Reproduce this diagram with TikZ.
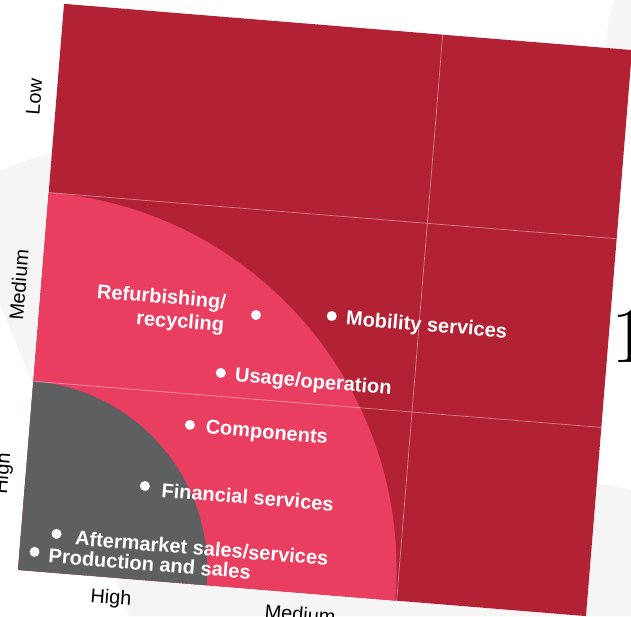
\documentclass[tikz,border=0pt]{standalone}
\usepackage{fontspec}
\newfontfamily\chartfont{Liberation Sans}
\usetikzlibrary{positioning}

\definecolor{cellred}{RGB}{179,33,52}
\definecolor{zonepink}{RGB}{234,62,97}
\definecolor{coregray}{RGB}{94,95,97}
\definecolor{backgray}{RGB}{245,245,245}

\tikzset{
  dot/.style={circle, fill=white, inner sep=0pt, minimum size=0.2cm},
  lbl/.style={text=white, yshift=-0.05cm, font=\chartfont\bfseries\fontsize{11.4}{13.2}\selectfont},
  axislbl/.style={text=black, font=\chartfont\fontsize{11.3}{13.2}\selectfont},
  gridline/.style={white, opacity=0.45, line width=0.4pt}
}

\begin{document}
\begin{tikzpicture}[x=0.02cm, y=-0.02cm]
\useasboundingbox (0,0) rectangle (631,616);

% faint shapes behind the matrix
\fill[backgray] (0,170) -- (200,100) -- (560,470) -- (594,484) .. controls (610,485) .. (631,490) -- (631,616) -- (130,616) -- (0,305) -- cycle;
\fill[backgray] (614,0) .. controls (608,20) .. (605,60) -- (631,60) -- (631,0) -- cycle;

\begin{scope}[shift={(0.36cm,-11.40cm)}, rotate=-4.65, x=3.80cm, y=3.787cm, transform shape]
\fill[cellred] (0,0) rectangle (3,3);
\begin{scope}
\clip (0,0) rectangle (3,3);
\fill[zonepink] (0,0) circle[radius=7.573cm];
\fill[coregray] (0,0) circle[radius=3.787cm];
\end{scope}
\draw[gridline] (0,1) -- (3,1) (0,2) -- (3,2) (2,0) -- (2,3);

% segments
\node[dot] (refurb) at (1.14,1.444) {};
\node[lbl, left=0.39cm of refurb, align=right] (refurbtxt) {Refurbishing/\\recycling};
\node[dot] (mobility) at (1.538,1.471) {};
\node[lbl, right=0.06cm of mobility] (mobilitytxt) {Mobility services};
\node[dot] (usage) at (0.98,1.124) {};
\node[lbl, right=0.06cm of usage] (usagetxt) {Usage/operation};
\node[dot] (comp) at (0.84,0.837) {};
\node[lbl, right=0.09cm of comp] (comptxt) {Components};
\node[dot] (finance) at (0.63,0.496) {};
\node[lbl, right=0.11cm of finance] (financetxt) {Financial services};
\node[dot] (aftermkt) at (0.187,0.206) {};
\node[lbl, right=0.15cm of aftermkt] (aftermkttxt) {Aftermarket sales/services};
\node[dot] (prod) at (0.079,0.102) {};
\node[lbl, right=0.06cm of prod] (prodtxt) {Production and sales};

% axis levels
\node[axislbl, rotate=90] (lowleft) at (-0.117,2.5) {Low};
\node[axislbl, rotate=90] (medleft) at (-0.117,1.5) {Medium};
\node[axislbl, rotate=90] (highleft) at (-0.117,0.5) {High};
\node[axislbl] (highbottom) at (0.5,-0.113) {High};
\node[axislbl] (medbottom) at (1.5,-0.113) {Medium};
\end{scope}

\node[anchor=base west, inner sep=0pt, font=\fontsize{45}{45}\selectfont] (pagenum) at (611,362) {1};
\end{tikzpicture}
\end{document}
